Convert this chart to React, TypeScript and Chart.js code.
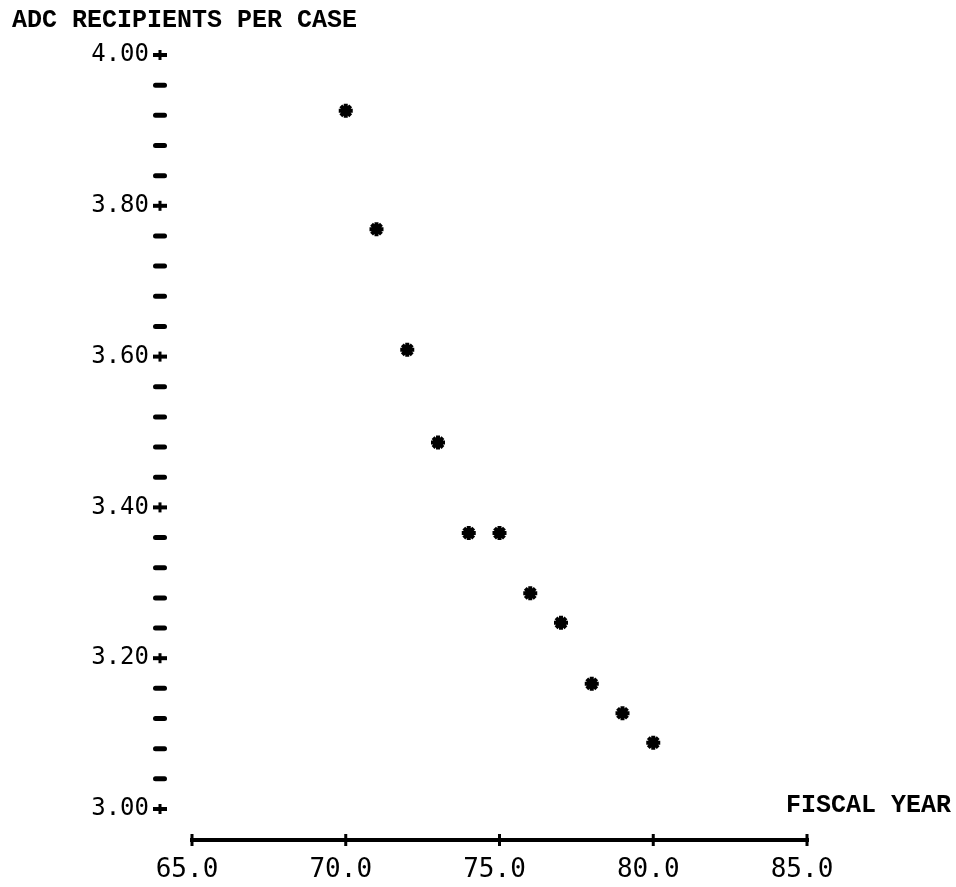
import React, { useEffect, useRef } from "react";
import { Chart, registerables } from "chart.js";

Chart.register(...registerables);

// ---- data ----
const fiscalYears = [70, 71, 72, 73, 74, 75, 76, 77, 78, 79, 80];
const recipientsPerCase = [3.926, 3.769, 3.609, 3.486, 3.366, 3.366, 3.286, 3.247, 3.166, 3.127, 3.088];
const xTickValues = [65, 70, 75, 80, 85];
const yMajorTickValues = [3.0, 3.2, 3.4, 3.6, 3.8, 4.0];
const yMinorStep = 0.04;
const yTitle = "ADC RECIPIENTS PER CASE";
const xTitle = "FISCAL YEAR";

const W = 956;
const H = 887;

export default function App() {
  const ref = useRef<HTMLCanvasElement | null>(null);

  useEffect(() => {
    const canvas = ref.current;
    if (!canvas) return;

    const printerMarks = {
      id: "printerMarks",
      afterDraw(chart: any) {
        const ctx = chart.ctx;
        const area = chart.chartArea;
        const xs = chart.scales.x;
        const ys = chart.scales.y;
        ctx.save();
        ctx.fillStyle = "#000";

        // titles
        ctx.font = 'bold 25px "Liberation Mono"';
        ctx.textBaseline = "middle";
        ctx.textAlign = "left";
        ctx.fillText(yTitle, 12, 21);
        ctx.textAlign = "right";
        ctx.fillText(xTitle, W - 5, ys.getPixelForValue(yMajorTickValues[0]) - 3);

        // y-axis tick marks (+ for labelled, dash otherwise)
        const cx = area.left - 32;
        ys.ticks.forEach((t: any) => {
          const py = ys.getPixelForValue(t.value);
          const isMajor = yMajorTickValues.some((v) => Math.abs(v - t.value) < 1e-6);
          if (isMajor) {
            ctx.fillRect(cx - 7, py - 2, 14, 4);
            ctx.fillRect(cx - 1.5, py - 5, 3, 10);
          } else {
            ctx.beginPath();
            ctx.roundRect(cx - 7, py - 2.5, 14, 5, 2.5);
            ctx.fill();
          }
        });

        // x axis line with + marks
        const ay = area.bottom + 31;
        const x0 = xs.getPixelForValue(xTickValues[0]);
        const x1 = xs.getPixelForValue(xTickValues[xTickValues.length - 1]);
        ctx.fillRect(x0 - 2, ay - 2, x1 - x0 + 4, 4);
        xTickValues.forEach((v) => {
          const px = xs.getPixelForValue(v);
          ctx.fillRect(px - 1.5, ay - 6, 3, 12);
        });
        ctx.restore();
      },
    };

    const chart = new Chart(canvas, {
      type: "scatter",
      data: {
        datasets: [
          {
            data: fiscalYears.map((x, i) => ({ x, y: recipientsPerCase[i] })),
            pointStyle: "star",
            radius: 7,
            borderWidth: 4,
            borderColor: "#000",
            backgroundColor: "#000",
          },
        ],
      },
      options: {
        animation: false,
        responsive: false,
        devicePixelRatio: 1,
        layout: { padding: { top: 52, left: 0, right: W - 807, bottom: 0 } },
        plugins: { legend: { display: false }, tooltip: { enabled: false }, title: { display: false } },
        scales: {
          x: {
            type: "linear",
            min: 65,
            max: 85,
            grid: { display: false, drawTicks: false },
            border: { display: false },
            afterBuildTicks: (scale: any) => {
              scale.ticks = xTickValues.map((v) => ({ value: v }));
            },
            afterFit: (scale: any) => {
              scale.height = 78;
            },
            ticks: {
              padding: 48,
              labelOffset: -5,
              maxRotation: 0,
              color: "#000",
              font: { family: '"DejaVu Sans Mono"', size: 26, lineHeight: 1 },
              callback: (v: any) => Number(v).toFixed(1),
            },
          },
          y: {
            type: "linear",
            min: 3,
            max: 4,
            grid: { display: false, drawTicks: false },
            border: { display: false },
            afterBuildTicks: (scale: any) => {
              const ticks: any[] = [];
              const n = Math.round((4 - 3) / yMinorStep);
              for (let i = 0; i <= n; i++) ticks.push({ value: 3 + i * yMinorStep });
              scale.ticks = ticks;
            },
            afterFit: (scale: any) => {
              scale.width = 192;
            },
            ticks: {
              padding: 43,
              color: "#000",
              autoSkip: false,
              font: { family: '"DejaVu Sans Mono"', size: 24, lineHeight: 1 },
              callback: (v: any) => {
                const val = Number(v);
                return yMajorTickValues.some((m) => Math.abs(m - val) < 1e-6) ? val.toFixed(2) : "";
              },
            },
          },
        },
      },
      plugins: [printerMarks],
    });

    return () => chart.destroy();
  }, []);

  return (
    <div style={{ position: "absolute", left: 0, top: 0, width: W, height: H, background: "#fff" }}>
      <canvas ref={ref} width={W} height={H} style={{ width: W, height: H, display: "block" }} />
    </div>
  );
}
